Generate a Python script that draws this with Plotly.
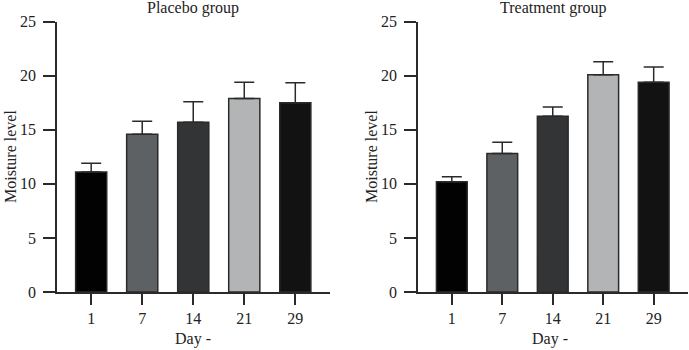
import plotly.graph_objects as go

days = ["1", "7", "14", "21", "29"]
placebo_mean = [11.1, 14.6, 15.7, 17.9, 17.5]
placebo_err = [0.8, 1.2, 1.9, 1.5, 1.85]
treat_mean = [10.2, 12.8, 16.25, 20.1, 19.4]
treat_err = [0.45, 1.05, 0.85, 1.2, 1.4]
bar_colors = ["#020202", "#5e6163", "#333435", "#b3b4b5", "#121212"]
y_ticks = [0, 5, 10, 15, 20, 25]

FONT = "Liberation Serif"
W, H = 689, 350
TXT = dict(family=FONT, size=16, color="#222")

def xp(px):
    return px / W

def yp(py):
    return 1 - py / H

fig = go.Figure()
for i, (m, e) in enumerate([(placebo_mean, placebo_err), (treat_mean, treat_err)]):
    ax = "" if i == 0 else "2"
    fig.add_trace(go.Bar(
        x=days, y=m, xaxis="x" + ax, yaxis="y" + ax,
        marker=dict(color=bar_colors, line=dict(color="#2a2a2a", width=1.5)),
        width=0.61,
        error_y=dict(type="data", array=e, arrayminus=[0] * len(e), symmetric=False,
                     color="#2a2a2a", thickness=1.5, width=10),
        showlegend=False,
    ))

def xaxis(dom, anchor):
    return dict(domain=dom, anchor=anchor, type="category", range=[-0.67, 4.68], showline=True,
                linecolor="#2a2a2a", linewidth=1.5, ticks="outside", ticklen=11,
                tickwidth=1.5, tickcolor="#2a2a2a", showgrid=False, zeroline=False,
                automargin=False, tickfont=TXT)

def yaxis(anchor):
    return dict(domain=[yp(292), yp(21.7)], range=[0, 25], tickvals=y_ticks,
                anchor=anchor, showline=True, linecolor="#2a2a2a", linewidth=1.5,
                ticks="outside", ticklen=12, tickwidth=1.5, tickcolor="#2a2a2a",
                showgrid=False, zeroline=False, automargin=False, tickfont=TXT,
                ticklabelstandoff=4)

def ann(text, x, y, angle=0):
    return dict(text=text, x=xp(x), y=yp(y), xref="paper", yref="paper", showarrow=False,
                xanchor="center", yanchor="middle", textangle=angle, font=TXT)

fig.update_layout(
    width=W, height=H, margin=dict(l=0, r=0, t=0, b=0, autoexpand=False),
    plot_bgcolor="white", paper_bgcolor="white",
    xaxis=xaxis([xp(57), xp(330)], "y"),
    yaxis=yaxis("x"),
    xaxis2=xaxis([xp(418), xp(688)], "y2"),
    yaxis2=yaxis("x2"),
    annotations=[
        ann("Placebo group", 193, 8.5),
        ann("Treatment group", 553, 8.5),
        ann("Moisture level", 10, 157, -90),
        ann("Moisture level", 371, 157, -90),
        ann("Day -", 193, 339),
        ann("Day -", 550, 339),
    ],
)
fig.write_html("out.html", config={"displayModeBar": False},
               post_script="document.body.style.margin='0';")
